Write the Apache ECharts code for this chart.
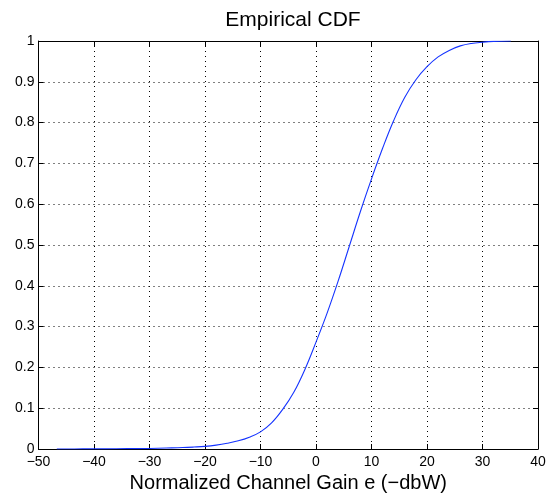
<!DOCTYPE html>
<html>
<head>
<meta charset="utf-8">
<script src="https://cdn.jsdelivr.net/npm/echarts@6/dist/echarts.min.js"></script>
<style>
html,body{margin:0;padding:0;background:#fff;}
#chart{width:556px;height:493px;}
</style>
</head>
<body>
<div id="chart"></div>
<script>
// Data
const gainValues = [-46.7, -42, -38, -34, -30, -27, -24, -22, -20, -18, -16, -14, -12, -10, -8, -6, -4, -2, 0, 2, 4, 6, 8, 10, 12, 14, 16, 18, 20, 22, 24, 26, 28, 30, 32, 35.1];
const cdfValues  = [0, 0.0002, 0.0004, 0.0008, 0.0014, 0.0024, 0.0035, 0.0048, 0.0065, 0.0095, 0.014, 0.020, 0.029, 0.042, 0.064, 0.097, 0.139, 0.195, 0.262, 0.333, 0.412, 0.497, 0.582, 0.662, 0.737, 0.805, 0.862, 0.905, 0.937, 0.961, 0.977, 0.988, 0.994, 0.997, 0.999, 1.0];
const xTicks = [-50, 40, 10];   // min, max, interval
const yTicks = [0, 1, 0.1];     // min, max, interval
const titleText = 'Empirical CDF';
const xLabelText = 'Normalized Channel Gain e (\u2212dbW)';

const FONT = '"Liberation Sans", Arial, Helvetica, sans-serif';
const chart = echarts.init(document.getElementById('chart'), null, {renderer: 'canvas'});

const fmtX = v => (v < 0 ? '\u2212' + Math.abs(v) : String(v));
const fmtY = v => String(+v.toFixed(1));

const gridLine = {show: true, lineStyle: {color: '#000', width: 1, type: [1, 4]}};
const axisLine = {show: true, onZero: false, lineStyle: {color: '#000', width: 1}};
const tick = {show: true, inside: true, length: 5, lineStyle: {color: '#000', width: 1}};

chart.setOption({
  animation: false,
  backgroundColor: '#fff',
  title: {
    text: titleText,
    left: 288, top: 5, textAlign: 'center',
    textStyle: {fontFamily: FONT, fontSize: 21, fontWeight: 'normal', color: '#000'}
  },
  grid: {left: 38.5, right: 18, top: 41, bottom: 44, containLabel: false, outerBoundsMode: 'none'},
  xAxis: [
    {
      type: 'value', min: xTicks[0], max: xTicks[1], interval: xTicks[2], position: 'bottom',
      axisLine: axisLine, axisTick: tick, splitLine: gridLine,
      axisLabel: {formatter: fmtX, fontFamily: FONT, fontSize: 14, color: '#000', margin: 6},
      name: xLabelText, nameLocation: 'middle', nameGap: 21,
      nameTextStyle: {fontFamily: FONT, fontSize: 20, color: '#000'}
    },
    {
      type: 'value', min: xTicks[0], max: xTicks[1], interval: xTicks[2], position: 'top',
      axisLine: axisLine, axisTick: tick, splitLine: {show: false}, axisLabel: {show: false}
    }
  ],
  yAxis: [
    {
      type: 'value', min: yTicks[0], max: yTicks[1], interval: yTicks[2], position: 'left',
      axisLine: axisLine, axisTick: tick, splitLine: gridLine,
      axisLabel: {formatter: fmtY, fontFamily: FONT, fontSize: 14, color: '#000', margin: 4}
    },
    {
      type: 'value', min: yTicks[0], max: yTicks[1], interval: yTicks[2], position: 'right',
      axisLine: axisLine, axisTick: tick, splitLine: {show: false}, axisLabel: {show: false}
    }
  ],
  series: [{
    type: 'line',
    xAxisIndex: 0, yAxisIndex: 0,
    data: gainValues.map((x, i) => [x, cdfValues[i]]),
    showSymbol: false, symbol: 'none',
    smooth: 0.4,
    lineStyle: {color: '#1433ff', width: 1.1},
    z: 5
  }]
});
</script>
</body>
</html>
